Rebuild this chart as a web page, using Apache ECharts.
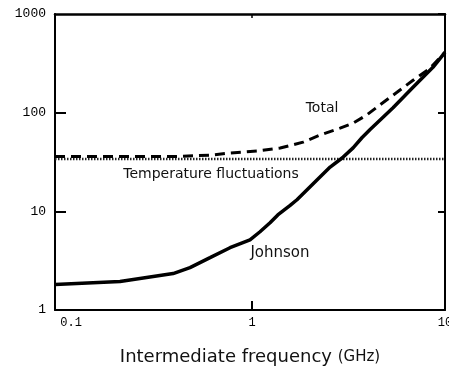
<!DOCTYPE html>
<html>
<head>
<meta charset="utf-8">
<script src="https://cdn.jsdelivr.net/npm/echarts@6/dist/echarts.min.js"></script>
<style>html,body{margin:0;padding:0;background:#fff;}#c{width:449px;height:375px;}</style>
</head>
<body>
<div id="c"></div>
<script>
// ---- data (frequency in GHz, noise values) ----
const xTickValues = [0.1, 1, 10];
const xTickLabels = ['0.1', '1', '10'];
const yTickValues = [1, 10, 100, 1000];
const yTickLabels = ['1', '10', '100', '1000'];

const johnsonFreq = [0.0953, 0.207, 0.39, 0.477, 0.606, 0.769, 0.976, 1.10, 1.24, 1.36, 1.57, 1.71, 2.17, 2.54, 2.93, 3.34, 3.72, 4.08, 5.38, 6.83, 8.66, 10];
const johnson     = [1.81, 1.94, 2.34, 2.69, 3.39, 4.28, 5.15, 6.21, 7.65, 9.2, 11.4, 13.1, 20.8, 28.1, 34.7, 44, 56, 67, 112, 181, 288, 408];

const totalFreq = [0.0953, 0.2, 0.4, 0.6, 0.769, 1.06, 1.40, 1.84, 2.25, 2.86, 3.34, 3.94, 4.60, 5.64, 6.83, 8.36, 10];
const total     = [36, 36, 36, 37, 39, 40.8, 43.8, 50.3, 59.3, 69.7, 78.3, 95, 120, 161, 213, 281, 410];

const tempFreq = [0.0953, 10];
const temp     = [34, 34];

const xName = 'Intermediate frequency';
const xUnit = '(GHz)';

function pairs(xs, ys) { return xs.map((x, i) => [x, ys[i]]); }
function labelFor(values, labels) {
  return function (v) {
    for (let i = 0; i < values.length; i++) {
      if (Math.abs(v - values[i]) / values[i] < 1e-6) return labels[i];
    }
    return '';
  };
}

const chart = echarts.init(document.getElementById('c'));
const black = '#000';
const monoLabel = { fontFamily: 'Liberation Mono', fontSize: 13, color: black };

chart.setOption({
  animation: false,
  backgroundColor: '#fff',
  grid: { left: 55, right: 4, top: 14, bottom: 65, containLabel: false, outerBoundsMode: 'none' },
  xAxis: [
    {
      type: 'log', min: 0.0953, max: 10, position: 'bottom',
      axisLine: { lineStyle: { color: black, width: 2 } },
      axisTick: { inside: true, length: 9, lineStyle: { color: black, width: 2 }, customValues: [1] },
      axisLabel: Object.assign({}, monoLabel, {
        fontSize: 12, margin: 7, customValues: xTickValues,
        formatter: function (v) {
          const s = labelFor(xTickValues, xTickLabels)(v);
          return s === '0.1' ? '{s|' + s + '}' : s;
        },
        rich: { s: { fontFamily: 'Liberation Mono', fontSize: 12, color: black, padding: [0, 0, 0, 24] } }
      }),
      splitLine: { show: false },
      name: '{a|' + xName + ' }{b|' + xUnit + '}',
      nameLocation: 'middle', nameGap: 38,
      nameTextStyle: {
        rich: {
          a: { fontFamily: 'DejaVu Sans', fontSize: 18, color: '#111' },
          b: { fontFamily: 'DejaVu Sans', fontSize: 15, color: '#111' }
        }
      }
    },
    {
      type: 'log', min: 0.0953, max: 10, position: 'top',
      axisLine: { lineStyle: { color: black, width: 2.5 } },
      axisTick: { inside: true, length: 4, lineStyle: { color: black, width: 1.5 }, customValues: [1] },
      axisLabel: { show: false },
      splitLine: { show: false }
    }
  ],
  yAxis: [
    {
      type: 'log', min: 1, max: 1000, position: 'left',
      axisLine: { lineStyle: { color: black, width: 2 } },
      axisTick: { inside: true, length: 11, lineStyle: { color: black, width: 2 }, customValues: [10, 100] },
      axisLabel: Object.assign({}, monoLabel, { margin: 9, customValues: yTickValues, formatter: labelFor(yTickValues, yTickLabels) }),
      splitLine: { show: false }
    },
    {
      type: 'log', min: 1, max: 1000, position: 'right',
      axisLine: { lineStyle: { color: black, width: 2 } },
      axisTick: { inside: true, length: 7, lineStyle: { color: black, width: 2 } },
      axisLabel: { show: false },
      splitLine: { show: false }
    }
  ],
  series: [
    {
      name: 'Temperature fluctuations', type: 'line', showSymbol: false,
      data: pairs(tempFreq, temp),
      lineStyle: { color: '#222', width: 2.5, type: [1.5, 1.5] }
    },
    {
      name: 'Total', type: 'line', showSymbol: false,
      data: pairs(totalFreq, total),
      lineStyle: { color: black, width: 3, type: [10, 6] }
    },
    {
      name: 'Johnson', type: 'line', showSymbol: false,
      data: pairs(johnsonFreq, johnson),
      lineStyle: { color: black, width: 3.5 }
    }
  ],
  graphic: [
    { type: 'text', x: 322, y: 108, style: { text: 'Total', font: '14px "DejaVu Sans"', fill: '#111', align: 'center', verticalAlign: 'middle' } },
    { type: 'text', x: 211, y: 174, style: { text: 'Temperature fluctuations', font: '14px "DejaVu Sans"', fill: '#111', align: 'center', verticalAlign: 'middle' } },
    { type: 'text', x: 280, y: 253, style: { text: 'Johnson', font: '15px "DejaVu Sans"', fill: '#111', align: 'center', verticalAlign: 'middle' } }
  ]
});
</script>
</body>
</html>
